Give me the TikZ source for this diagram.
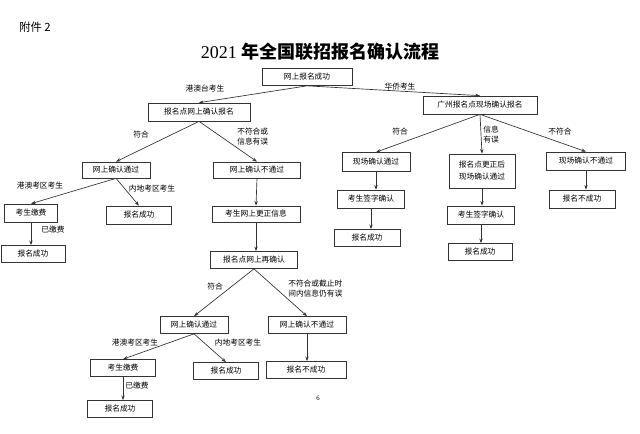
\documentclass[tikz,border=0pt]{standalone}
\usepackage{fontspec}
\setmainfont{Liberation Serif}
\newfontfamily\cjk{Noto Sans CJK SC}
\usetikzlibrary{arrows.meta}
\begin{document}
\begin{tikzpicture}[x=0.75pt,y=-0.75pt,
  box/.style={draw=black!80,line width=0.5pt,inner sep=0pt,font=\cjk\fontsize{5.8}{7}\selectfont,align=center},
  lbl/.style={font=\cjk\fontsize{5.8}{7.5}\selectfont,align=left,inner sep=0pt},
  arr/.style={-{Stealth[length=3.5pt,width=2.5pt]},line width=0.5pt,draw=black!80}]
\useasboundingbox (0,0) rectangle (640,433);
\node[font=\cjk\fontsize{8.5}{10}\selectfont] (att) at (35,27) {附件 2};
\node[font=\fontsize{13.5}{16}\selectfont] (title) at (320,52) {2021 {\cjk\bfseries 年全国联招报名确认流程}};
\node[box,minimum width=90*0.75pt,minimum height=17*0.75pt] (b1) at (307,77) {网上报名成功};
\node[box,minimum width=102*0.75pt,minimum height=18*0.75pt] (b2) at (199,112) {报名点网上确认报名};
\node[box,minimum width=114*0.75pt,minimum height=18*0.75pt] (b3) at (480,105) {广州报名点现场确认报名};
\node[box,minimum width=68*0.75pt,minimum height=16*0.75pt] (b4) at (116,170) {网上确认通过};
\node[box,minimum width=87*0.75pt,minimum height=16*0.75pt] (b5) at (257,170) {网上确认不通过};
\node[box,minimum width=53*0.75pt,minimum height=18*0.75pt] (b6) at (31,213) {考生缴费};
\node[box,minimum width=65*0.75pt,minimum height=18*0.75pt] (b7) at (139,215) {报名成功};
\node[box,minimum width=88*0.75pt,minimum height=16*0.75pt] (b8) at (256,214) {考生网上更正信息};
\node[box,minimum width=64*0.75pt,minimum height=17*0.75pt] (b9) at (33,254) {报名成功};
\node[box,minimum width=87*0.75pt,minimum height=17*0.75pt] (b10) at (254,260) {报名点网上再确认};
\node[box,minimum width=68*0.75pt,minimum height=17*0.75pt] (b11) at (194,325) {网上确认通过};
\node[box,minimum width=78*0.75pt,minimum height=17*0.75pt] (b12) at (307,325) {网上确认不通过};
\node[box,minimum width=65*0.75pt,minimum height=17*0.75pt] (b13) at (123,368) {考生缴费};
\node[box,minimum width=65*0.75pt,minimum height=17*0.75pt] (b14) at (226,371) {报名成功};
\node[box,minimum width=80*0.75pt,minimum height=17*0.75pt] (b15) at (306,370) {报名不成功};
\node[box,minimum width=65*0.75pt,minimum height=17*0.75pt] (b16) at (120,409) {报名成功};
\node[box,minimum width=68*0.75pt,minimum height=19*0.75pt] (b17) at (376,162) {现场确认通过};
\node[box,minimum width=66*0.75pt,minimum height=34*0.75pt] (b18) at (482,171) {报名点更正后\\[2pt]现场确认通过};
\node[box,minimum width=79*0.75pt,minimum height=18*0.75pt] (b19) at (586,161) {现场确认不通过};
\node[box,minimum width=67*0.75pt,minimum height=18*0.75pt] (b20) at (371,199) {考生签字确认};
\node[box,minimum width=66*0.75pt,minimum height=18*0.75pt] (b21) at (582,199) {报名不成功};
\node[box,minimum width=66*0.75pt,minimum height=17*0.75pt] (b22) at (367,238) {报名成功};
\node[box,minimum width=67*0.75pt,minimum height=18*0.75pt] (b23) at (481,215) {考生签字确认};
\node[box,minimum width=64*0.75pt,minimum height=17*0.75pt] (b24) at (480,252) {报名成功};
\draw[arr] (b1.south) -- (b2.north);
\draw[arr] (b1.south) -- (b3.north);
\draw[arr] (b2.south) -- (b4.north);
\draw[arr] (b2.south) -- (b5.north);
\draw[arr] (b4.south) -- (b6.north);
\draw[arr] (b4.south) -- (b7.north);
\draw[arr] (b5.south) -- (b8.north);
\draw[arr] (b6.south) -- (b9.north-|b6.south);
\draw[arr] (b8.south) -- (b10.north-|b8.south);
\draw[arr] (b10.south) -- (b11.north);
\draw[arr] (b10.south) -- (b12.north);
\draw[arr] (b11.south) -- (b13.north);
\draw[arr] (b11.south) -- (b14.north);
\draw[arr] (b12.south) -- (b15.north-|b12.south);
\draw[arr] (b13.south) -- (b16.north-|b13.south);
\draw[arr] (b3.south) -- (b17.north);
\draw[arr] (b3.south) -- (b18.north);
\draw[arr] (b3.south) -- (b19.north);
\draw[arr] (b17.south) -- (b20.north-|b17.south);
\draw[arr] (b19.south) -- (b21.north-|b19.south);
\draw[arr] (b20.south) -- (b22.north-|b20.south);
\draw[arr] (b18.south) -- (b23.north-|b18.south);
\draw[arr] (b23.south) -- (b24.north-|b23.south);
\node[lbl] (l1) at (205,89) {港澳台考生};
\node[lbl] (l2) at (400,87) {华侨考生};
\node[lbl] (l3) at (141,135) {符合};
\node[lbl,anchor=west] (l4) at (237,137) {不符合或\\信息有误};
\node[lbl] (l5) at (400,132) {符合};
\node[lbl] (l6) at (491,135) {信息\\有误};
\node[lbl] (l7) at (560,132) {不符合};
\node[lbl] (l8) at (40,186) {港澳考区考生};
\node[lbl] (l9) at (152,189) {内地考区考生};
\node[lbl] (l10) at (53,230) {已缴费};
\node[lbl] (l11) at (215,287) {符合};
\node[lbl,anchor=west] (l12) at (288,289) {不符合或截止时\\间内信息仍有误};
\node[lbl] (l13) at (135,343) {港澳考区考生};
\node[lbl] (l14) at (238,343) {内地考区考生};
\node[lbl] (l15) at (137,386) {已缴费};
\node[font=\fontsize{5}{6}\selectfont] (pg) at (318,398) {6};
\end{tikzpicture}
\end{document}
